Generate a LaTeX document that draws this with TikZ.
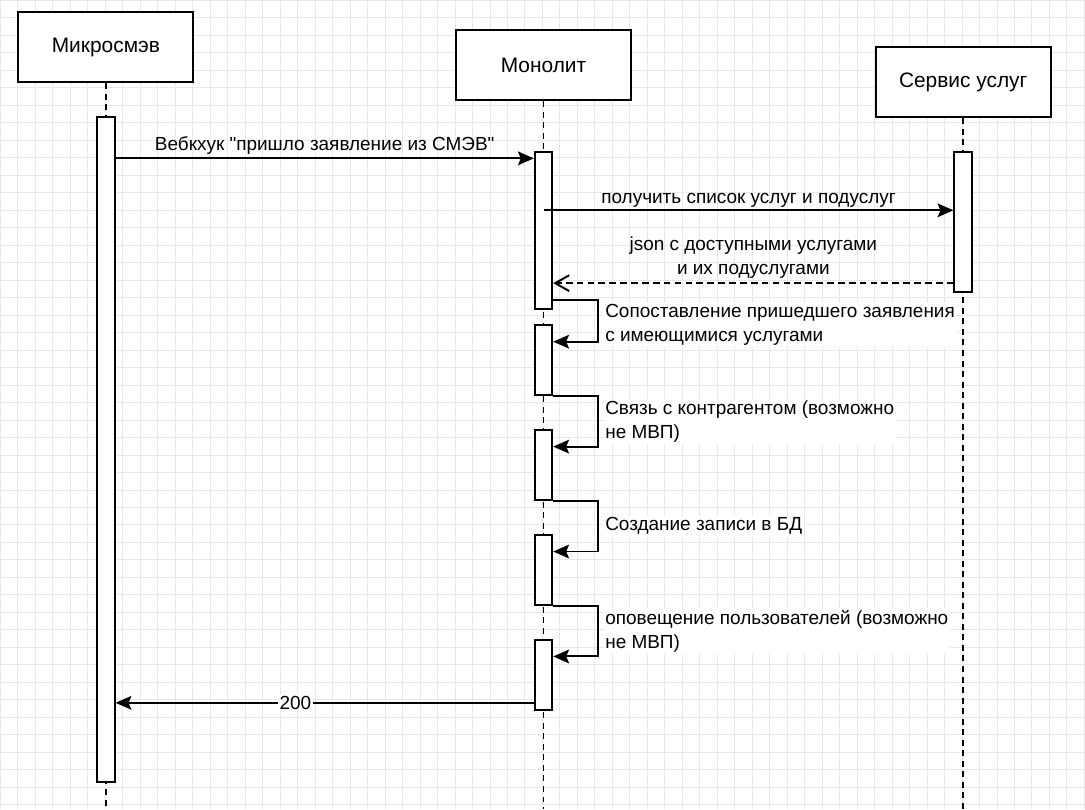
\documentclass[tikz,border=0pt]{standalone}
\usepackage{fontspec}
\setmainfont{Liberation Sans}
\usepackage{tikz}
\usetikzlibrary{arrows.meta, positioning, calc}

\definecolor{gridcolor}{RGB}{232, 232, 232}

\tikzset{
    actor/.style={draw, rectangle, line width=1.1pt, fill=white, minimum width=3.5cm, minimum height=1.4cm, align=center, font=\fontsize{11.9}{14}\selectfont},
    actbar/.style={draw, rectangle, line width=1.1pt, fill=white, minimum width=0.35cm, inner sep=0pt},
    lifeline/.style={line width=1.1pt, dash pattern=on 3.4pt off 2.6pt},
    msg/.style={-{Stealth[length=9pt, width=7.8pt, inset=1.6pt]}, line width=1.1pt},
    reply/.style={-{Straight Barb[length=8pt, width=9pt]}, line width=1.1pt, dash pattern=on 3.8pt off 2.4pt},
    msgtext/.style={font=\fontsize{10.8}{13.6}\selectfont, align=center},
    note/.style={font=\fontsize{10.8}{13.6}\selectfont, align=left, anchor=west, fill=white, inner sep=1pt, xshift=2.5pt}
}

\begin{document}
\begin{tikzpicture}[x=0.02cm, y=-0.02cm]

    % Background and grid
    \fill[white] (0,0) rectangle (1085,809);
    \draw[gridcolor, line width=0.5pt, step=0.35cm] (0,0) grid (1085,809);
    \useasboundingbox (0,0) rectangle (1085,809);

    % Participants
    \node[actor] (mikro) at (105.5,47) {Микросмэв};
    \node[actor] (mono) at (543.5,65) {Монолит};
    \node[actor] (svc) at (963.5,82) {Сервис услуг};

    % Lifelines
    \coordinate (mikroEnd) at (105.5,809);
    \coordinate (monoEnd) at (543.5,809);
    \coordinate (svcEnd) at (963.5,809);
    \draw[lifeline] (mikro.south) -- (mikroEnd);
    \draw[lifeline] (mono.south) -- (monoEnd);
    \draw[lifeline] (svc.south) -- (svcEnd);

    % Activation bars
    \node[actbar, minimum height=13.3cm] (mikroBar) at (105.5,449.5) {};
    \node[actbar, minimum height=2.8cm] (svcBar) at (963.5,222) {};
    \node[actbar, minimum height=3.14cm] (monoA) at (543.5,230.5) {};
    \node[actbar, minimum height=1.4cm] (monoB) at (543.5,360) {};
    \node[actbar, minimum height=1.4cm] (monoC) at (543.5,465) {};
    \node[actbar, minimum height=1.4cm] (monoD) at (543.5,570) {};
    \node[actbar, minimum height=1.4cm] (monoE) at (543.5,675) {};

    % Webhook from Mikrosmev
    \coordinate (hookEnd) at ($(monoA.north west)+(0,7)$);
    \draw[msg] (mikroBar.east |- hookEnd) -- node[msgtext, above=-1.5pt] {Вебкхук \textquotedbl пришло заявление из СМЭВ\textquotedbl} (hookEnd);

    % Request to the service
    \coordinate (askEnd) at ($(svcBar.north west)+(0,59)$);
    \draw[msg] (monoA.center |- askEnd) -- node[msgtext, above=-2.5pt] {получить список услуг и подуслуг} (askEnd);

    % Reply with the list
    \coordinate (listStart) at ($(svcBar.south west)+(0,-10)$);
    \draw[reply] (listStart) -- node[msgtext, above=-1pt] {json с доступными услугами\\и их подуслугами} (monoA.east |- listStart);

    % Self calls of the monolith
    \draw[msg] ($(monoA.south east)+(0,-10)$) -- ++(45,0) |- node[note, pos=0.25, yshift=-2pt] {Сопоставление пришедшего заявления\\с имеющимися услугами} ($(monoB.north east)+(0,17.5)$);
    \draw[msg] (monoB.south east) -- ++(45,0) |- node[note, pos=0.25] {Связь с контрагентом (возможно\\не МВП)} ($(monoC.north east)+(0,17.5)$);
    \draw[msg] (monoC.south east) -- ++(45,0) |- node[note, pos=0.25] {Создание записи в БД} ($(monoD.north east)+(0,17.5)$);
    \draw[msg] (monoD.south east) -- ++(45,0) |- node[note, pos=0.25] {оповещение пользователей (возможно\\не МВП)} ($(monoE.north east)+(0,17.5)$);

    % Answer back
    \coordinate (okStart) at ($(monoE.south west)+(0,-8)$);
    \draw[msg] (okStart) -- node[msgtext, pos=0.57, fill=white, inner sep=1pt] {200} (mikroBar.east |- okStart);

\end{tikzpicture}
\end{document}
